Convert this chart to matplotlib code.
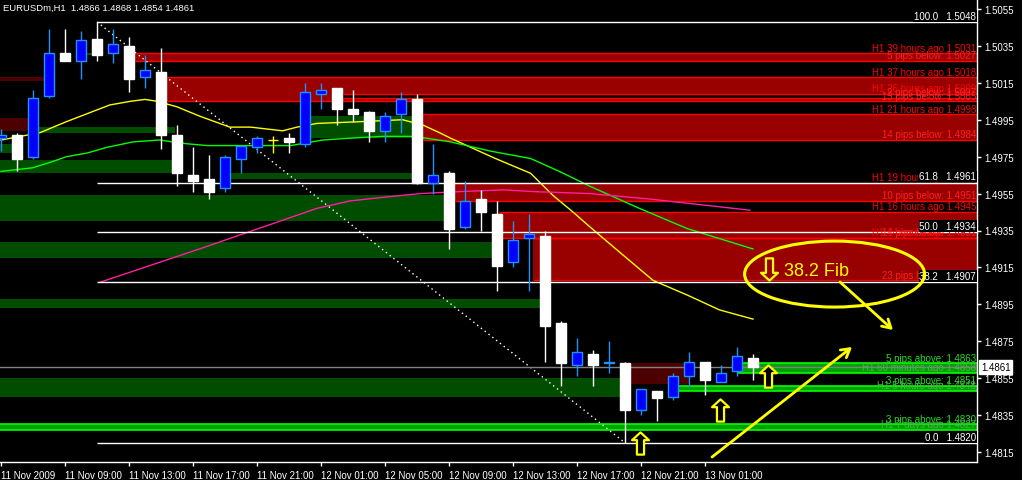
import matplotlib
matplotlib.use("Agg")
import matplotlib.pyplot as plt
from matplotlib.patches import Rectangle, Ellipse
from matplotlib.path import Path
import matplotlib.transforms as mtransforms

plt.rcParams['font.family'] = ['Liberation Sans', 'DejaVu Sans']

# EURUSDm H1 candles, 11 Nov 05:00 .. 13 Nov 04:00
opens = [1.4985, 1.4987, 1.4975, 1.5008, 1.5031, 1.5027, 1.5039, 1.5031, 1.5035, 1.5018,
         1.5021, 1.4987, 1.4965, 1.4963, 1.4958, 1.4974, 1.4980, 1.4984, 1.4985, 1.4982,
         1.5009, 1.5012, 1.5001, 1.4999, 1.4989, 1.4998, 1.5006, 1.4961, 1.4966, 1.4937,
         1.4952, 1.4944, 1.4918, 1.4931, 1.4932, 1.4885, 1.4862, 1.4868, 1.4863, 1.4863,
         1.4838, 1.4848, 1.4845, 1.4856, 1.4864, 1.4853, 1.4859, 1.4866]
highs = [1.4990, 1.4988, 1.5011, 1.5044, 1.5044, 1.5043, 1.5048, 1.5044, 1.5040, 1.5030,
         1.5034, 1.4992, 1.4980, 1.4976, 1.4976, 1.4981, 1.4986, 1.4986, 1.4988, 1.5015,
         1.5015, 1.5012, 1.5011, 1.5000, 1.4999, 1.5010, 1.5009, 1.4982, 1.4967, 1.4962,
         1.4957, 1.4951, 1.4940, 1.4944, 1.4935, 1.4886, 1.4877, 1.4870, 1.4875, 1.4864,
         1.4849, 1.4848, 1.4858, 1.4869, 1.4864, 1.4862, 1.4872, 1.4868]
lows = [1.4978, 1.4967, 1.4974, 1.5007, 1.5027, 1.5017, 1.5027, 1.5026, 1.5010, 1.5012,
        1.4979, 1.4959, 1.4956, 1.4952, 1.4956, 1.4966, 1.4977, 1.4977, 1.4977, 1.4980,
        1.5001, 1.4992, 1.4994, 1.4983, 1.4983, 1.4988, 1.4960, 1.4955, 1.4925, 1.4936,
        1.4935, 1.4902, 1.4915, 1.4902, 1.4864, 1.4851, 1.4856, 1.4851, 1.4858, 1.4820,
        1.4835, 1.4832, 1.4843, 1.4850, 1.4846, 1.4853, 1.4856, 1.4854]
closes = [1.4987, 1.4974, 1.5007, 1.5031, 1.5027, 1.5038, 1.5030, 1.5036, 1.5017, 1.5022,
          1.4987, 1.4966, 1.4962, 1.4956, 1.4975, 1.4981, 1.4985, 1.4984, 1.4983, 1.5010,
          1.5011, 1.5001, 1.4998, 1.4989, 1.4997, 1.5006, 1.4961, 1.4965, 1.4936, 1.4951,
          1.4945, 1.4916, 1.4930, 1.4933, 1.4883, 1.4863, 1.4869, 1.4862, 1.4864, 1.4838,
          1.4849, 1.4844, 1.4856, 1.4864, 1.4854, 1.4858, 1.4867, 1.4861]

time_ticks = [0, 4, 8, 12, 16, 20, 24, 28, 32, 36, 40, 44]
time_labels = ["11 Nov 2009", "11 Nov 09:00", "11 Nov 13:00", "11 Nov 17:00", "11 Nov 21:00",
               "12 Nov 01:00", "12 Nov 05:00", "12 Nov 09:00", "12 Nov 13:00", "12 Nov 17:00",
               "12 Nov 21:00", "13 Nov 01:00"]
price_ticks = [1.4815, 1.4835, 1.4855, 1.4875, 1.4895, 1.4915, 1.4935, 1.4955, 1.4975,
               1.4995, 1.5015, 1.5035, 1.5055]

# moving averages (bar position, price)
yellow_x = [0, 2.44, 4.1, 5.6, 6.8, 8.1, 9.0, 9.75, 11.0, 12.4, 14.3, 15.6, 17.6, 18.5, 19.75,
            22.6, 25.1, 26.4, 27.4, 28.1, 30.9, 33.1, 34.5, 35.75, 36.8, 38.7, 40.75, 42.9, 44.9, 47.0]
yellow_y = [1.4984, 1.4988, 1.4994, 1.4999, 1.5003, 1.5005, 1.5006, 1.5005, 1.5002, 1.4997,
            1.4991, 1.4991, 1.4989, 1.4991, 1.4993, 1.4994, 1.4995, 1.4992, 1.4988, 1.4985,
            1.4974, 1.4966, 1.4954, 1.4945, 1.4937, 1.4923, 1.4908, 1.4900, 1.4892, 1.4887]
green_x = [0, 2, 3.1, 4.1, 5.4, 6.6, 8.25, 9.9, 11.6, 12.9, 18.1, 20.1, 21.8, 23.9, 25.6,
           26.6, 28.1, 30.6, 33.1, 34.9, 36.8, 39.9, 42.9, 47.0]
green_y = [1.4967, 1.4969, 1.4972, 1.4975, 1.4977, 1.4980, 1.4983, 1.4984, 1.4982, 1.4981,
           1.4981, 1.4984, 1.4985, 1.4986, 1.4986, 1.4985, 1.4983, 1.4978, 1.4974, 1.4967,
           1.4959, 1.4947, 1.4936, 1.4925]
magenta_x = [6.2, 12.4, 19.75, 21.8, 23.9, 26.2, 28.5, 31.4, 33.5, 36.8, 40.6, 43.7, 46.8]
magenta_y = [1.4907, 1.4925, 1.4947, 1.4951, 1.4953, 1.4955, 1.4956, 1.4957, 1.4956, 1.4955,
             1.4952, 1.4949, 1.4946]

# resistance zones: top, bottom, start bar, labels
red_top = [1.5031, 1.5018, 1.5009, 1.4998, 1.4961, 1.4945, 1.4931]
red_bot = [1.5027, 1.5005, 1.5007, 1.4984, 1.4951, 1.4931, 1.4908]
red_start = [8.35, 10.35, 21.35, 26.35, 28.35, 31.1, 33.25]
red_top_labels = ["H1 39 hours ago 1.5031", "H1 37 hours ago 1.5018", "H1 26 hours ago 1.5009",
                  "H1 21 hours ago 1.4998", "H1 19 hours ago 1.4961", "H1 16 hours ago 1.4945",
                  "H1 14 hours ago 1.4931"]
red_bot_labels = ["5 pips below: 1.5027", "13 pips below: 1.5005", "2 pips below: 1.5007",
                  "14 pips below: 1.4984", "10 pips below: 1.4951", "14 pips below: 1.4931",
                  "23 pips below: 1.4908"]

# support zones (bright)
sup_top = [1.4863, 1.4851, 1.4830]
sup_bot = [1.4858, 1.4848, 1.4827]
sup_start = [46.0, 42.3, -1.0]
sup_top_labels = ["5 pips above: 1.4863", "3 pips above: 1.4851", "3 pips above: 1.4830"]
sup_bot_labels = ["H1 60 minutes ago 1.4858", "H1 5 hours ago 1.4848", "H1 7 days ago 1.4827"]

# older zones (no labels): top, bottom, x start, x end
old_green_top = [1.4991, 1.4973, 1.4997, 1.4966, 1.4954, 1.4929, 1.4898, 1.4855, 1.5031, 1.4982]
old_green_bot = [1.4988, 1.4966, 1.4985, 1.4963, 1.4940, 1.4920, 1.4893, 1.4845, 1.5030, 1.4977]
old_green_x0 = [2.3, -1.0, 19.3, 14.3, -1.0, -1.0, -1.0, -1.0, 5.4, -1.0]
old_green_x1 = [10.9, 10.7, 25.8, 25.8, 27.7, 30.7, 33.7, 38.7, 5.7, 0.7]
old_red_top = [1.5018, 1.4996, 1.4863]
old_red_bot = [1.5016, 1.4989, 1.4852]
old_red_x0 = [-1.0, -1.0, 39.3]
old_red_x1 = [2.7, 1.7, 43.06]

fib_levels = [1.5048, 1.4961, 1.4934, 1.4907, 1.4820]
fib_names = ["100.0", "61.8", "50.0", "38.2", "0.0"]
fib_start = 6
fib_end = 39
current_price = 1.4861

up_arrows_x = [39.94, 44.94, 47.94]
up_arrows_y = [1.48199, 1.48380, 1.48562]

XMAX = 61.0

fig = plt.figure(figsize=(10.22, 4.81), dpi=100, facecolor='black')
ax = fig.add_axes([0, 18 / 481, 977 / 1022, 463 / 481])
ax.set_facecolor('black')
ax.set_xlim(-0.0625, XMAX)
ax.set_ylim(1.48096, 1.50604)

# older zones
for t, b, x0, x1 in zip(old_green_top, old_green_bot, old_green_x0, old_green_x1):
    ax.add_patch(Rectangle((x0, b), x1 - x0, t - b, facecolor='#004d00', lw=0, zorder=1))
for t, b, x0, x1 in zip(old_red_top, old_red_bot, old_red_x0, old_red_x1):
    ax.add_patch(Rectangle((x0, b), x1 - x0, t - b, facecolor='#4d0000', lw=0, zorder=1))

# resistance zones, overlaps cancel out like the terminal's xor fill
for t, b, x0 in zip(red_top, red_bot, red_start):
    ax.add_patch(Rectangle((x0, b), XMAX - x0, t - b, facecolor='#990000', lw=0, zorder=1))
for i in range(len(red_top)):
    for j in range(i + 1, len(red_top)):
        hi = min(red_top[i], red_top[j])
        lo = max(red_bot[i], red_bot[j])
        if hi > lo:
            x0 = max(red_start[i], red_start[j])
            ax.add_patch(Rectangle((x0, lo), XMAX - x0, hi - lo, facecolor='black', lw=0, zorder=1.1))
for t, b, x0 in zip(red_top, red_bot, red_start):
    ax.hlines([t, b], x0, XMAX, colors='#ff0000', lw=1, zorder=1.2)

for t, b, x0 in zip(sup_top, sup_bot, sup_start):
    ax.add_patch(Rectangle((x0, b), XMAX - x0, t - b, facecolor='#00a000', lw=0, zorder=1))
    ax.hlines([t, b], x0, XMAX, colors='#00ff00', lw=1.2, zorder=1.2)

# moving averages
ax.plot(yellow_x, yellow_y, color='#ffff00', lw=1, zorder=2)
ax.plot(green_x, green_y, color='#00ff00', lw=1, zorder=2)
ax.plot(magenta_x, magenta_y, color='#ff1ea0', lw=1, zorder=2)

# fibonacci
ax.hlines(fib_levels, fib_start, XMAX, colors='white', lw=1, zorder=2.5)
ax.plot([fib_start, fib_end], [fib_levels[0], fib_levels[-1]], color='white',
        lw=1, ls=(0, (1, 2.5)), zorder=2.5)
ax.axhline(current_price, color='#808080', lw=1, zorder=2.6)

# candles
w = 0.66
for i, (o, h, l, c) in enumerate(zip(opens, highs, lows, closes)):
    if c > o:
        face, edge = '#0000ff', '#1e90ff'
    elif c < o:
        face, edge = 'white', 'white'
    else:
        face, edge = None, '#ffff00'
    ax.vlines(i, l, h, color=edge, lw=1, zorder=3)
    if face is None:
        ax.hlines(o, i - w / 2, i + w / 2, color=edge, lw=1, zorder=3)
    else:
        ax.add_patch(Rectangle((i - w / 2, min(o, c)), w, abs(c - o), facecolor=face,
                               edgecolor=edge, lw=1, zorder=3.1))

# zone labels
lab_kw = dict(ha='right', va='bottom', fontsize=7, zorder=4,
              textcoords='offset points', xytext=(0, 0.5))
xr = XMAX - 0.06
for t, b, lt, lb in zip(red_top, red_bot, red_top_labels, red_bot_labels):
    ax.annotate(lt, (xr, t), color='#ff0000', **lab_kw)
    ax.annotate(lb, (xr, b), color='#ff2020', **lab_kw)
for t, b, lt, lb in zip(sup_top, sup_bot, sup_top_labels, sup_bot_labels):
    ax.annotate(lt, (xr, t), color='#22dd22', **lab_kw)
    ax.annotate(lb, (xr, b), color='#55aa55', **lab_kw)
for lvl, name in zip(fib_levels, fib_names):
    ax.annotate(f"{name}   {lvl:.4f}", (xr, lvl), color='white', ha='right', va='bottom',
                fontsize=7, zorder=5, textcoords='offset points', xytext=(0, 0.8),
                bbox=dict(facecolor='black', edgecolor='none', pad=0.6))

# hand drawn notes
ax.add_patch(Ellipse((52.1, 1.49114), 11.25, 0.003575, fill=False, edgecolor='#ffff00',
                     lw=2.2, zorder=6))
ax.text(48.94, 1.49136, "38.2 Fib", color='#ffff00', fontsize=13, ha='left', va='center', zorder=6)
ax.annotate("", xy=(55.75, 1.48811), xytext=(52.44, 1.49071), zorder=6,
            arrowprops=dict(arrowstyle='->,head_length=0.6,head_width=0.35', color='#ffff00',
                            lw=2, shrinkA=0, shrinkB=0))
ax.annotate("", xy=(53.19, 1.48719), xytext=(44.44, 1.48123), zorder=6,
            arrowprops=dict(arrowstyle='->,head_length=0.6,head_width=0.35', color='#ffff00',
                            lw=2, shrinkA=0, shrinkB=0))
up_path = Path([(0, 0.5), (0.38, 0.15), (0.16, 0.15), (0.16, -0.5), (-0.16, -0.5),
                (-0.16, 0.15), (-0.38, 0.15), (0, 0.5)], closed=True)
down_path = Path([(x, -y) for x, y in up_path.vertices], closed=True)
ax.plot(up_arrows_x, up_arrows_y, ls='none', marker=up_path, ms=16, mfc='black',
        mec='#ffff00', mew=1.6, zorder=6)
ax.plot([48.0], [1.49144], ls='none', marker=down_path, ms=16, mfc='none',
        mec='#ffff00', mew=1.6, zorder=6)

# axes styling
for s in ['top', 'left']:
    ax.spines[s].set_visible(False)
for s in ['right', 'bottom']:
    ax.spines[s].set_color('white')
    ax.spines[s].set_linewidth(1)
ax.yaxis.tick_right()
ax.set_yticks(price_ticks)
ax.set_yticklabels([f"{p:.4f}" for p in price_ticks])
ax.set_xticks(time_ticks)
ax.set_xticklabels(time_labels, ha='left')
ax.tick_params(colors='white', labelcolor='white', labelsize=7, length=3, width=1)
ax.tick_params(axis='x', pad=2.5)
ax.tick_params(axis='y', pad=2)

trans = mtransforms.blended_transform_factory(ax.transAxes, ax.transData)
ax.text(1 + 4 / 977, current_price, f"{current_price:.4f}", transform=trans, color='black',
        fontsize=7, ha='left', va='center', zorder=7,
        bbox=dict(facecolor='white', edgecolor='white', pad=1.2))

fig.text(3 / 1022, 1 - 8 / 481, "EURUSDm,H1  1.4866 1.4868 1.4854 1.4861", color='white',
         fontsize=6.8, ha='left', va='center')

fig.savefig("out.png", dpi=100, facecolor='black')
